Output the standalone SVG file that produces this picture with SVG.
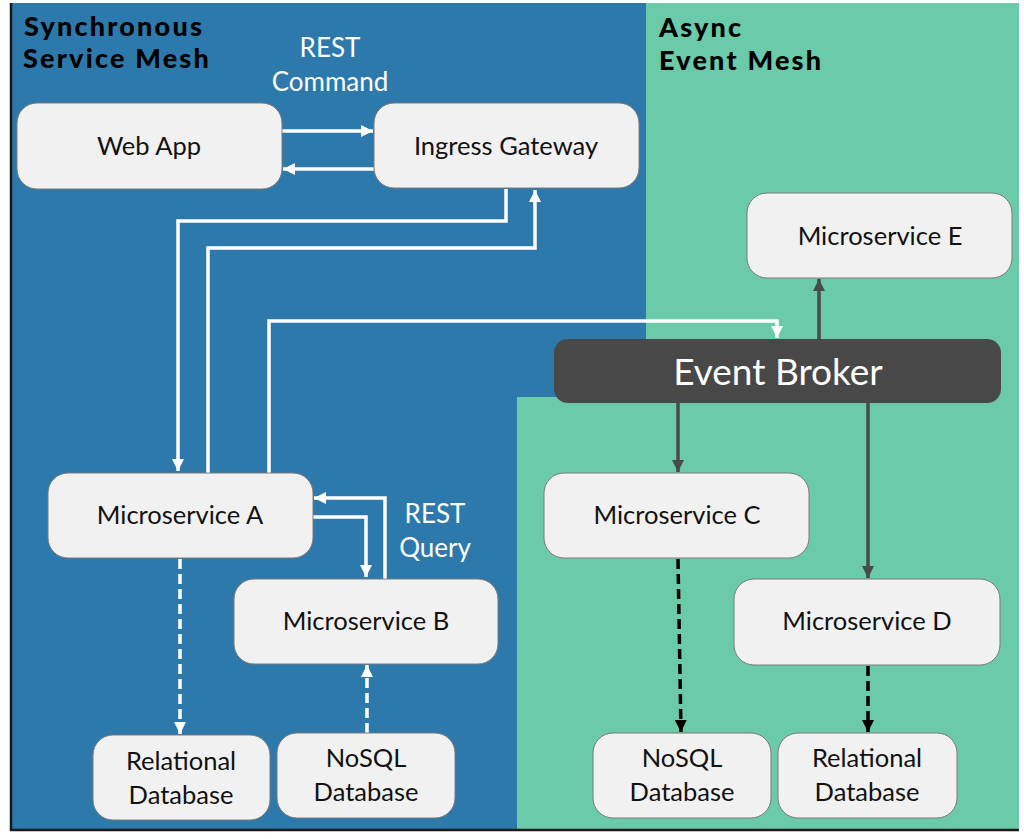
<svg xmlns="http://www.w3.org/2000/svg" width="1024" height="839" viewBox="0 0 1024 839">
<defs>
<style>
.node rect{fill:#f1f1f1;stroke:#7a7a7a;stroke-width:1}
.nt{font-family:Lato,"Open Sans",sans-serif;font-size:25.5px;fill:#111;text-anchor:middle}
.title{font-family:Lato,"Liberation Sans",sans-serif;font-weight:900;font-size:27px;fill:#000;letter-spacing:2.2px}
.lbl{font-family:Lato,"Open Sans",sans-serif;font-size:26px;fill:#fff;text-anchor:middle}
.w{fill:none;stroke:#fff;stroke-width:3.5}
.wd{fill:none;stroke:#fff;stroke-width:3.5;stroke-dasharray:10 5}
.g{fill:none;stroke:#4a4a4a;stroke-width:3.5}
.kd{fill:none;stroke:#000;stroke-width:3.5;stroke-dasharray:10 5}
</style>
<marker id="aw" viewBox="0 0 10 10" refX="10" refY="5" markerWidth="12" markerHeight="12" markerUnits="userSpaceOnUse" orient="auto"><path d="M0,0 L10,5 L0,10 z" fill="#fff"/></marker>
<marker id="ag" viewBox="0 0 10 10" refX="10" refY="5" markerWidth="12" markerHeight="12" markerUnits="userSpaceOnUse" orient="auto"><path d="M0,0 L10,5 L0,10 z" fill="#4a4a4a"/></marker>
<marker id="ak" viewBox="0 0 10 10" refX="10" refY="5" markerWidth="12" markerHeight="12" markerUnits="userSpaceOnUse" orient="auto"><path d="M0,0 L10,5 L0,10 z" fill="#000"/></marker>
</defs>
<rect width="1024" height="839" fill="#fff"/>
<g id="regions">
<rect x="11" y="3" width="636" height="828" fill="#2d79ab"/>
<path d="M646,3 H1019 V831 H517 V397 H646 Z" fill="#6acaa9"/>
<path d="M11,3 V830 H1019" fill="none" stroke="#1a1a1a" stroke-width="2.5"/>
<text class="title" x="24" y="36">Synchronous</text>
<text class="title" x="23" y="68">Service Mesh</text>
<text class="title" x="659" y="37">Async</text>
<text class="title" x="659" y="70">Event Mesh</text>
</g>
<g id="connectors">
<line class="w" x1="282" y1="131" x2="373" y2="131" marker-end="url(#aw)"/>
<line class="w" x1="374" y1="169" x2="283" y2="169" marker-end="url(#aw)"/>
<polyline class="w" points="506,189 506,221 178,221 178,471" marker-end="url(#aw)"/>
<polyline class="w" points="208,473 208,248 535,248 535,190" marker-end="url(#aw)"/>
<polyline class="w" points="269,473 269,321 777,321 777,338" marker-end="url(#aw)"/>
<polyline class="w" points="313,517 366,517 366,577" marker-end="url(#aw)"/>
<polyline class="w" points="385,579 385,498 314,498" marker-end="url(#aw)"/>
<line class="wd" x1="180" y1="559" x2="180" y2="734" marker-end="url(#aw)"/>
<line class="wd" x1="367" y1="733" x2="367" y2="665" marker-end="url(#aw)"/>
<line class="g" x1="819" y1="339" x2="819" y2="279" marker-end="url(#ag)"/>
<line class="g" x1="678" y1="403" x2="678" y2="472" marker-end="url(#ag)"/>
<line class="g" x1="868" y1="403" x2="868" y2="578" marker-end="url(#ag)"/>
<line class="kd" x1="678" y1="559" x2="681" y2="732" marker-end="url(#ak)"/>
<line class="kd" x1="868" y1="666" x2="868" y2="732" marker-end="url(#ak)"/>
<text class="lbl" x="330" y="57">REST</text>
<text class="lbl" x="330" y="91">Command</text>
<text class="lbl" x="435" y="523">REST</text>
<text class="lbl" x="435" y="557">Query</text>
</g>
<g id="webapp" class="node"><rect x="17" y="103" width="265" height="86" rx="20"/><text class="nt" x="149" y="155">Web App</text></g>
<g id="ingress" class="node"><rect x="374" y="103" width="265" height="85" rx="20"/><text class="nt" x="506" y="155">Ingress Gateway</text></g>
<g id="msE" class="node"><rect x="747" y="193" width="265" height="85" rx="20"/><text class="nt" x="880" y="245">Microservice E</text></g>
<g id="broker"><rect x="554" y="339" width="447" height="64" rx="14" fill="#484848"/><text x="778" y="385" font-family="Lato,'Open Sans',sans-serif" font-size="37" fill="#fff" text-anchor="middle">Event Broker</text></g>
<g id="msA" class="node"><rect x="48" y="473" width="265" height="85" rx="20"/><text class="nt" x="180" y="524">Microservice A</text></g>
<g id="msB" class="node"><rect x="234" y="579" width="264" height="85" rx="20"/><text class="nt" x="366" y="630">Microservice B</text></g>
<g id="relA" class="node"><rect x="93" y="735" width="177" height="85" rx="20"/><text class="nt" x="181" y="770">Relational</text><text class="nt" x="181" y="804">Database</text></g>
<g id="nosqlB" class="node"><rect x="277" y="733" width="178" height="85" rx="20"/><text class="nt" x="366" y="767">NoSQL</text><text class="nt" x="366" y="801">Database</text></g>
<g id="msC" class="node"><rect x="544" y="473" width="265" height="85" rx="20"/><text class="nt" x="677" y="524">Microservice C</text></g>
<g id="msD" class="node"><rect x="734" y="579" width="266" height="86" rx="20"/><text class="nt" x="867" y="630">Microservice D</text></g>
<g id="nosqlC" class="node"><rect x="593" y="733" width="178" height="85" rx="20"/><text class="nt" x="682" y="767">NoSQL</text><text class="nt" x="682" y="801">Database</text></g>
<g id="relD" class="node"><rect x="778" y="733" width="179" height="85" rx="20"/><text class="nt" x="867" y="767">Relational</text><text class="nt" x="867" y="801">Database</text></g>
</svg>
